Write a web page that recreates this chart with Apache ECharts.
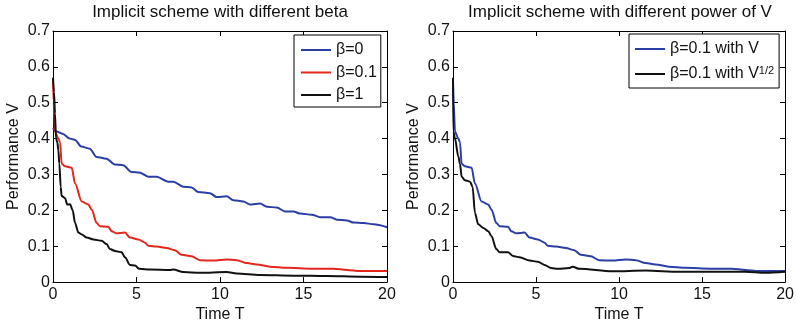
<!DOCTYPE html>
<html>
<head>
<meta charset="utf-8">
<script src="https://cdn.jsdelivr.net/npm/echarts@6/dist/echarts.min.js"></script>
<style>
  html, body { margin: 0; padding: 0; background: #fff; }
  #main { width: 797px; height: 328px; }
</style>
</head>
<body>
<div id="main"></div>
<script>
// values
var xTicks = [0, 5, 10, 15, 20];
var yTicks = [0, 0.1, 0.2, 0.3, 0.4, 0.5, 0.6, 0.7];

// beta = 0
var tBeta0 = [0, 0.2, 0.6, 1.0, 1.3, 1.7, 2.2, 2.6, 3.2, 3.7, 4.2, 4.7, 5.2, 5.7, 6.2, 6.9, 7.2, 7.8, 8.3, 8.7, 9.4, 9.8, 10.4, 10.8, 11.4, 11.8, 12.4, 12.8, 13.4, 13.9, 14.4, 14.8, 15.5, 16.0, 16.6, 17.0, 17.6, 18.0, 18.6, 19.2, 20];
var vBeta0 = [0.43, 0.42, 0.413, 0.40, 0.397, 0.378, 0.372, 0.349, 0.344, 0.328, 0.326, 0.307, 0.305, 0.294, 0.294, 0.28, 0.28, 0.266, 0.264, 0.251, 0.248, 0.237, 0.239, 0.228, 0.225, 0.216, 0.219, 0.21, 0.208, 0.197, 0.197, 0.191, 0.188, 0.181, 0.181, 0.174, 0.172, 0.166, 0.165, 0.161, 0.153];

// beta = 0.1 (same run is "with V" on the right)
var tBeta01 = [0, 0.04, 0.12, 0.32, 0.42, 0.52, 0.72, 1.12, 1.32, 1.72, 2.12, 2.32, 2.61, 2.81, 3.31, 3.51, 3.81, 4.31, 4.61, 5.11, 5.51, 5.71, 6.21, 6.8, 7.3, 7.7, 8.3, 8.8, 9.6, 10.4, 11.0, 11.6, 12.2, 13.0, 14.0, 15.0, 16.0, 16.8, 17.6, 18.4, 20];
var vBeta01 = [0.565, 0.50, 0.42, 0.40, 0.39, 0.33, 0.323, 0.319, 0.275, 0.225, 0.216, 0.202, 0.165, 0.156, 0.154, 0.142, 0.136, 0.138, 0.124, 0.119, 0.11, 0.101, 0.099, 0.095, 0.089, 0.076, 0.072, 0.061, 0.06, 0.063, 0.061, 0.053, 0.049, 0.043, 0.04, 0.038, 0.037, 0.037, 0.034, 0.031, 0.031];

// beta = 1
var tBeta1 = [0, 0.06, 0.12, 0.18, 0.26, 0.32, 0.38, 0.46, 0.52, 0.72, 0.86, 1.02, 1.18, 1.32, 1.52, 1.72, 2.02, 2.42, 2.91, 3.21, 3.41, 3.71, 4.11, 4.31, 4.61, 4.91, 5.17, 5.81, 7.0, 7.2, 7.8, 8.8, 10.4, 11.0, 12.4, 14.4, 16.4, 18.4, 20];
var vBeta1 = [0.57, 0.53, 0.47, 0.40, 0.39, 0.367, 0.33, 0.266, 0.24, 0.234, 0.216, 0.217, 0.20, 0.165, 0.138, 0.133, 0.124, 0.119, 0.115, 0.106, 0.092, 0.087, 0.083, 0.069, 0.048, 0.046, 0.037, 0.035, 0.034, 0.035, 0.028, 0.026, 0.028, 0.024, 0.02, 0.018, 0.017, 0.015, 0.014];

// beta = 0.1 with V^(1/2)
var tSqrt = [0, 0.02, 0.12, 0.32, 0.42, 0.52, 0.72, 1.02, 1.18, 1.32, 1.52, 1.82, 2.12, 2.32, 2.61, 2.81, 3.31, 3.61, 4.01, 4.61, 5.11, 5.51, 5.91, 6.31, 7.0, 7.2, 7.6, 9.6, 11.6, 13.6, 15.6, 17.6, 18.8, 20];
var vSqrt = [0.57, 0.42, 0.40, 0.35, 0.33, 0.294, 0.284, 0.28, 0.266, 0.193, 0.161, 0.151, 0.142, 0.128, 0.092, 0.083, 0.083, 0.073, 0.069, 0.06, 0.057, 0.048, 0.039, 0.037, 0.039, 0.043, 0.037, 0.03, 0.032, 0.029, 0.029, 0.029, 0.026, 0.029];

var titles = ['Implicit scheme with different beta', 'Implicit scheme with different power of V'];
var namesLeft = ['β=0', 'β=0.1', 'β=1'];
var namesRight = ['β=0.1 with V', 'β=0.1 with V1/2'];

function zip(t, v) {
    return t.map(function (x, i) { return [x, v[i]]; });
}

var FONT = 'Liberation Sans, Arial, sans-serif';
var BLUE = '#2b3ea6', RED = '#e4261d', BLACK = '#111111';

var chart = echarts.init(document.getElementById('main'), null, { renderer: 'canvas' });

var grids = [
    { left: 53, right: 410, top: 31, bottom: 44 },
    { left: 453, right: 11, top: 31, bottom: 44 }
];

// main axes + mirrored axes for the box frame
var xAxes = [], yAxes = [];
grids.forEach(function (g, gi) {
    ['bottom', 'top'].forEach(function (pos) {
        xAxes.push({
            type: 'value', gridIndex: gi, position: pos,
            min: 0, max: 20, interval: 5,
            name: pos === 'bottom' ? 'Time T' : '',
            nameLocation: 'middle', nameGap: 22,
            nameTextStyle: { fontFamily: FONT, fontSize: 16, color: '#111' },
            axisLine: { show: true, onZero: false, lineStyle: { color: '#000', width: 1 } },
            axisTick: { show: true, inside: true, length: 5, lineStyle: { color: '#000' } },
            axisLabel: { show: pos === 'bottom', margin: 4, fontFamily: FONT, fontSize: 16, color: '#111' },
            splitLine: { show: false }
        });
    });
    ['left', 'right'].forEach(function (pos) {
        yAxes.push({
            type: 'value', gridIndex: gi, position: pos,
            min: 0, max: 0.7, interval: 0.1,
            name: pos === 'left' ? 'Performance V' : '',
            nameLocation: 'middle', nameGap: 31, nameRotate: 90,
            nameTextStyle: { fontFamily: FONT, fontSize: 16, color: '#111' },
            axisLine: { show: true, onZero: false, lineStyle: { color: '#000', width: 1 } },
            axisTick: { show: true, inside: true, length: 5, lineStyle: { color: '#000' } },
            axisLabel: { show: pos === 'left', margin: 3, fontFamily: FONT, fontSize: 16, color: '#111',
                formatter: function (v) { return v === 0 ? '0' : v.toFixed(1); } },
            splitLine: { show: false }
        });
    });
});

function line(name, data, color, xi, yi) {
    return {
        name: name, type: 'line', data: data,
        xAxisIndex: xi, yAxisIndex: yi,
        symbol: 'none', smooth: 0.3, smoothMonotone: 'x',
        lineStyle: { color: color, width: 2 },
        itemStyle: { color: color },
        animation: false
    };
}

var option = {
    animation: false,
    backgroundColor: '#fff',
    title: [
        { text: titles[0], left: 220, top: 4, textAlign: 'center', padding: 0,
          textStyle: { fontFamily: FONT, fontSize: 17, fontWeight: 'normal', color: '#111' } },
        { text: titles[1], left: 620, top: 4, textAlign: 'center', padding: 0,
          textStyle: { fontFamily: FONT, fontSize: 17, fontWeight: 'normal', color: '#111' } }
    ],
    legend: [
        {
            data: namesLeft, orient: 'vertical', left: 294, top: 35,
            backgroundColor: '#fff', borderColor: '#000', borderWidth: 1,
            padding: [7, 4, 4, 6], itemWidth: 30, itemHeight: 16, itemGap: 6.5,
            selectedMode: false,
            itemStyle: { opacity: 0 },
            textStyle: { fontFamily: FONT, fontSize: 16, color: '#111' }
        },
        {
            data: namesRight, orient: 'vertical', left: 629, top: 34,
            backgroundColor: '#fff', borderColor: '#000', borderWidth: 1,
            padding: [7, 5, 6, 5], itemWidth: 30, itemHeight: 16, itemGap: 8,
            selectedMode: false,
            itemStyle: { opacity: 0 },
            formatter: function (name) {
                if (name === namesRight[1]) return '{n|β=0.1 with V}{s|1/2}';
                return '{n|' + name + '}';
            },
            textStyle: {
                fontFamily: FONT, fontSize: 16, color: '#111',
                rich: {
                    n: { fontFamily: FONT, fontSize: 16, color: '#111', lineHeight: 18 },
                    s: { fontFamily: FONT, fontSize: 11, color: '#111', verticalAlign: 'top', lineHeight: 18, padding: [0, 0, 6, 0] }
                }
            }
        }
    ],
    grid: grids,
    xAxis: xAxes,
    yAxis: yAxes,
    series: [
        line(namesLeft[0], zip(tBeta0, vBeta0), BLUE, 0, 0),
        line(namesLeft[1], zip(tBeta01, vBeta01), RED, 0, 0),
        line(namesLeft[2], zip(tBeta1, vBeta1), BLACK, 0, 0),
        line(namesRight[0], zip(tBeta01, vBeta01), BLUE, 2, 2),
        line(namesRight[1], zip(tSqrt, vSqrt), BLACK, 2, 2)
    ]
};

chart.setOption(option);
</script>
</body>
</html>
